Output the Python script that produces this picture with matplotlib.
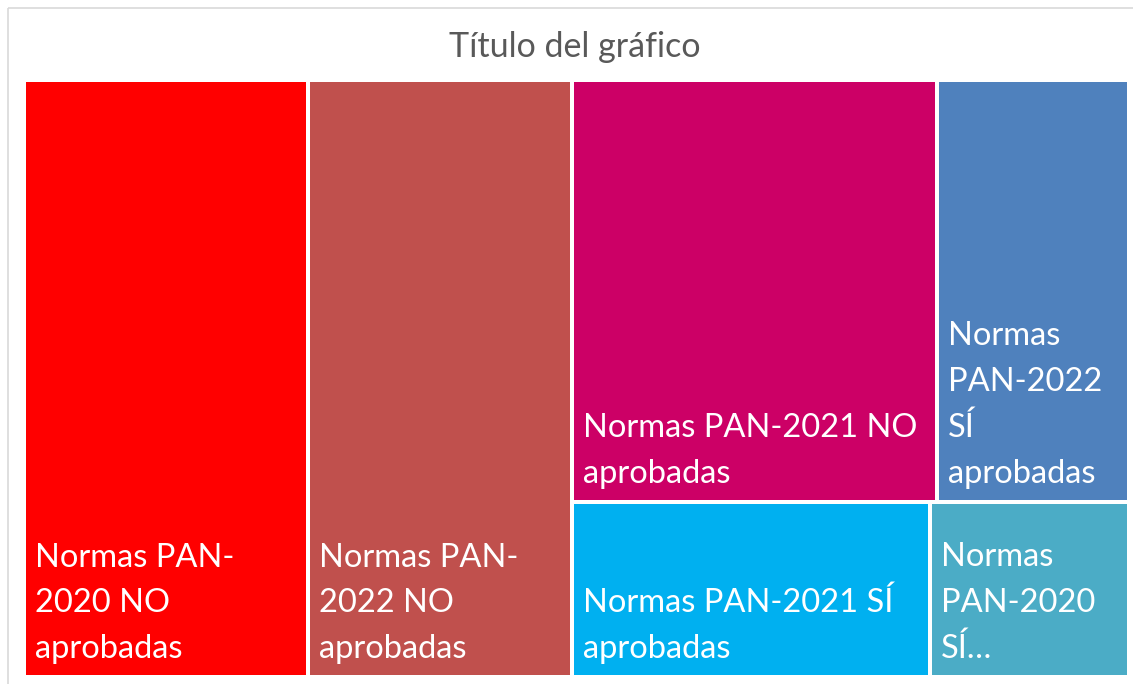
"""
Treemap of PAN norms (approved / not approved) drawn with plain rectangles
"""

import matplotlib.pyplot as plt
from matplotlib.patches import Rectangle

# data (share of the total area)
categories = [
    "Normas PAN-2020 NO aprobadas",
    "Normas PAN-2022 NO aprobadas",
    "Normas PAN-2021 NO aprobadas",
    "Normas PAN-2022 SÍ aprobadas",
    "Normas PAN-2021 SÍ aprobadas",
    "Normas PAN-2020 SÍ aprobadas",
]
values = [25.7, 23.9, 23.3, 12.3, 9.5, 5.3]

# labels as Excel wrapped / cut them
labels = [
    "Normas PAN-\n2020 NO\naprobadas",
    "Normas PAN-\n2022 NO\naprobadas",
    "Normas PAN-2021 NO\naprobadas",
    "Normas\nPAN-2022\nSÍ\naprobadas",
    "Normas PAN-2021 SÍ\naprobadas",
    "Normas\nPAN-2020\nSÍ…",
]
colors = ["#FF0000", "#C0504D", "#CC0066", "#4F81BD", "#00B0F0", "#4BACC6"]

# how Excel grouped the boxes: two columns, then a block of two rows
groups = [[0], [1], [[2, 3], [4, 5]]]

FONT = ["Lato", "DejaVu Sans"]


def total(node):
    if isinstance(node, int):
        return values[node]
    return sum(total(n) for n in node)


def layout(node, x, y, w, h, horizontal, out):
    # slice-and-dice: split along one direction, then alternate
    if isinstance(node, int):
        out[node] = (x, y, w, h)
        return
    s = total(node)
    pos = 0
    for child in node:
        frac = total(child) / s
        if horizontal:
            layout(child, x + pos * w, y, w * frac, h, not horizontal, out)
        else:
            layout(child, x, y + pos * h, w, h * frac, not horizontal, out)
        pos += frac


def main():
    fig = plt.figure(figsize=(11.33, 6.84), dpi=100)
    ax = fig.add_axes([0, 0, 1, 1])
    ax.set_xlim(0, 1133)
    ax.set_ylim(684, 0)
    ax.axis("off")

    # chart frame
    ax.add_patch(Rectangle((8, 8), 1140, 700, fill=False,
                           edgecolor="#D9D9D9", linewidth=1.2))

    ax.text(575, 47, "Título del gráfico", ha="center", va="center",
            fontsize=24.5, color="#595959", family=FONT)

    rects = {}
    layout(groups, 24, 80, 1105, 597, True, rects)

    gap = 2
    for i in range(len(values)):
        x, y, w, h = rects[i]
        ax.add_patch(Rectangle((x + gap, y + gap), w - 2 * gap, h - 2 * gap,
                               facecolor=colors[i], edgecolor="none"))
        ax.text(x + gap + 9, y + h - gap - 11, labels[i], ha="left",
                va="bottom", color="white", fontsize=23.5, family=FONT,
                linespacing=1.65)

    fig.savefig("out.png", dpi=100)


if __name__ == "__main__":
    main()
